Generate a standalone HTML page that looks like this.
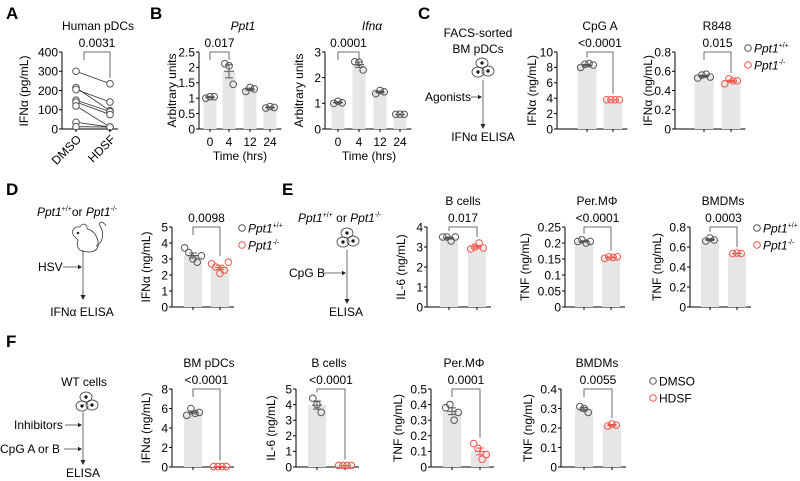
<!DOCTYPE html>
<html><head><meta charset="utf-8"><style>
html,body{margin:0;padding:0;background:#fff}
svg{display:block;font-family:"Liberation Sans",Arial,sans-serif}
</style></head><body>
<svg id="fig" width="800" height="481" viewBox="0 0 800 481" xmlns="http://www.w3.org/2000/svg">
<g font-weight="bold" font-size="17">
<text x="6" y="19">A</text>
<text x="150" y="19">B</text>
<text x="418" y="19">C</text>
<text x="6" y="195">D</text>
<text x="282" y="195">E</text>
<text x="6" y="347">F</text>
</g>
<g font-size="12" text-anchor="middle">
<text x="478" y="37">FACS-sorted</text>
<text x="478" y="53">BM pDCs</text>
<text x="448" y="101">Agonists</text>
<text x="483" y="141">IFNα ELISA</text>
</g>
<g font-size="12">
<text x="37" y="216"><tspan font-style="italic">Ppt1</tspan><tspan font-size="7" dy="-5">+/+</tspan><tspan dy="5">or </tspan><tspan font-style="italic">Ppt1</tspan><tspan font-size="7" dy="-5">-/-</tspan></text>
<text x="38" y="271">HSV</text>
<text x="82" y="316" text-anchor="middle">IFNα ELISA</text>
</g>
<g font-size="12">
<text x="298" y="222"><tspan font-style="italic">Ppt1</tspan><tspan font-size="7" dy="-5">+/+</tspan><tspan dy="5"> or </tspan><tspan font-style="italic">Ppt1</tspan><tspan font-size="7" dy="-5">-/-</tspan></text>
<text x="289" y="277">CpG B</text>
<text x="346" y="316" text-anchor="middle">ELISA</text>
</g>
<g font-size="12">
<text x="84" y="386" text-anchor="middle">WT cells</text>
<text x="14" y="429">Inhibitors</text>
<text x="0" y="453">CpG A or B</text>
<text x="83" y="477" text-anchor="middle">ELISA</text>
</g>
</svg>
<script>
// ---- data ----
const aDmso = [300, 215, 205, 150, 140, 120, 35, 12];
const aHdsf = [235, 95, 140, 90, 75, 10, 10, 10];
const timeLabels = ["0", "4", "12", "24"];
const ppt1Points = [[1.0, 1.05, 1.05], [2.12, 2.05, 1.45], [1.22, 1.35, 1.3], [0.68, 0.73, 0.7]];
const ifnaPoints = [[1.0, 1.08, 1.02], [2.62, 2.6, 2.3], [1.38, 1.5, 1.45], [0.57, 0.58, 0.57]];
const cpgaWt = [8.0, 8.4, 8.5, 8.3];
const cpgaKo = [3.8, 3.8, 3.8, 3.8];
const r848Wt = [0.53, 0.56, 0.57, 0.54];
const r848Ko = [0.47, 0.52, 0.5, 0.5];
const hsvWt = [3.7, 3.4, 3.0, 2.8, 3.2];
const hsvKo = [2.7, 2.5, 2.1, 2.3, 2.8];
const eBWt = [3.5, 3.5, 3.3, 3.5];
const eBKo = [2.9, 3.0, 3.2, 2.95];
const ePerWt = [0.205, 0.21, 0.2, 0.205];
const ePerKo = [0.152, 0.157, 0.155, 0.157];
const eBmdmWt = [0.66, 0.69, 0.67];
const eBmdmKo = [0.535, 0.54, 0.535];
const fPdcDmso = [5.3, 6.0, 5.5, 5.6];
const fPdcHdsf = [0.05, 0.05, 0.05, 0.05];
const fBDmso = [4.4, 4.0, 3.5];
const fBHdsf = [0.1, 0.1, 0.1, 0.1];
const fPerDmso = [0.38, 0.4, 0.3, 0.35];
const fPerHdsf = [0.15, 0.12, 0.05, 0.08];
const fBmdmDmso = [0.31, 0.3, 0.28];
const fBmdmHdsf = [0.21, 0.22, 0.215];
const ticks2p5 = [0, 0.5, 1, 1.5, 2, 2.5];
const ticks3 = [0, 1, 2, 3];
const ticks10 = [0, 2, 4, 6, 8, 10];
const ticks08 = [0, 0.2, 0.4, 0.6, 0.8];
const ticks5 = [0, 1, 2, 3, 4, 5];
const ticks4 = [0, 1, 2, 3, 4];
const ticks025 = [0, 0.05, 0.1, 0.15, 0.2, 0.25];
const ticks8 = [0, 2, 4, 6, 8];
const ticks05 = [0, 0.1, 0.2, 0.3, 0.4, 0.5];
const ticks04 = [0, 0.1, 0.2, 0.3, 0.4];
const ticksA = [0, 100, 200, 300, 400];

const NS = "http://www.w3.org/2000/svg";
const svg = document.getElementById("fig");
const GREY = "#555", RED = "#f0564a", BAR = "#e6e6e6";
const FS = 12;
function mk(tag, attrs, parent) {
  const e = document.createElementNS(NS, tag);
  for (const k in attrs) e.setAttribute(k, attrs[k]);
  (parent || svg).appendChild(e);
  return e;
}
function fmt(v) { return String(+v.toFixed(3)); }
function mean(a) { return a.reduce((s, v) => s + v, 0) / a.length; }
function sem(a) { const m = mean(a); return Math.sqrt(a.reduce((s, v) => s + (v - m) * (v - m), 0) / (a.length - 1)) / Math.sqrt(a.length); }

function yAxis(g, ax, top, bot, ticks) {
  const max = ticks[ticks.length - 1];
  const y = v => bot - (v / max) * (bot - top);
  const l = mk("line", { x1: ax, x2: ax, y1: top, y2: bot, stroke: "#000", "stroke-width": 1 }, g);
  
  
  ticks.forEach((t) => {
    const tk = mk("line", { x1: ax - 3, x2: ax, y1: y(t), y2: y(t), stroke: "#000" }, g);
    
    
    const tx = mk("text", { x: ax - 4, y: y(t) + 4.3, "text-anchor": "end", "font-size": FS }, g);
    
    
    tx.textContent = fmt(t);
  });
  return y;
}
function yTitle(g, x, cy, txt) {
  const t = mk("text", { x: x, y: cy, "text-anchor": "middle", "font-size": FS, transform: "rotate(-90 " + x + " " + cy + ")" }, g);
  
  
  t.textContent = txt;
}
function circles(g, cx, y, pts, color) {
  const n = pts.length;
  pts.forEach((v, i) => {
    const off = (i - (n - 1) / 2) * 4.2;
    const c = mk("circle", { cx: cx + off, cy: y(v), r: 3.3, fill: "none", stroke: color, "stroke-width": 1 }, g);
    
    
  });
}
function errbar(g, cx, y, pts, color) {
  const m = mean(pts), s = sem(pts);
  const e = mk("path", { d: `M${cx},${y(m - s)}V${y(m + s)}M${cx - 4},${y(m + s)}H${cx + 4}M${cx - 4},${y(m - s)}H${cx + 4}M${cx - 5},${y(m)}H${cx + 5}`, stroke: color, fill: "none", "stroke-width": 1 }, g);
  
  
}
function sig(g, x1, x2, top, y1, y2, txt) {
  const p = mk("path", { d: `M${x1},${y1}V${top}H${x2}V${y2}`, stroke: "#444", fill: "none", "stroke-width": 0.8 }, g);
  
  
  const t = mk("text", { x: (x1 + x2) / 2, y: top - 5, "text-anchor": "middle", "font-size": FS }, g);
  
  
  t.textContent = txt;
}
function barChart(name, o, groups, colors, ticks) {
  const g = mk("g", {});
  
  
  const y = yAxis(g, o.ax, o.top, o.bot, ticks);
  const xEnd = o.xs[o.xs.length - 1] + o.bw / 2 + 5;
  const xl = mk("line", { x1: o.ax, x2: xEnd, y1: o.bot, y2: o.bot, stroke: "#000" }, g);
  
  
  groups.forEach((pts, i) => {
    const cx = o.xs[i], m = mean(pts);
    const b = mk("rect", { x: cx - o.bw / 2, y: y(m), width: o.bw, height: o.bot - y(m), fill: BAR }, g);
    
    
    const tk = mk("line", { x1: cx, x2: cx, y1: o.bot, y2: o.bot + 3, stroke: "#000" }, g);
    
    
    errbar(g, cx, y, pts, colors[i]);
    circles(g, cx, y, pts, colors[i]);
  });
  if (o.title) {
    const t = mk("text", { x: o.tx, y: o.top - 22, "text-anchor": "middle", "font-size": FS, "font-style": o.italic ? "italic" : "normal" }, g);
    
    
    t.textContent = o.title;
  }
  const a = groups[0], b = groups[1];
  sig(g, o.xs[0], o.xs[1], o.top, Math.min(o.top + 8, y(Math.max(...a)) - 6), Math.max(o.top + 8, y(Math.max(...b)) - 6), o.p);
  yTitle(g, o.yx, (o.top + o.bot) / 2, o.ylab);
  return { g, y };
}

// ---- Panel A (paired) ----
(function () {
  const g = mk("g", {});
  
  
  const top = 52, bot = 129, ax = 62;
  const y = yAxis(g, ax, top, bot, ticksA);
  const xl = mk("line", { x1: ax, x2: 118, y1: bot, y2: bot, stroke: "#000" }, g);
  
  
  const x0 = 76, x1 = 110;
  aDmso.forEach((v, i) => {
    const l = mk("line", { x1: x0, y1: y(v), x2: x1, y2: y(aHdsf[i]), stroke: "#333", "stroke-width": 0.8 }, g);
    
    
  });
  aDmso.forEach(v => {
    const c = mk("circle", { cx: x0, cy: y(v), r: 3.3, fill: "#fff", stroke: GREY }, g);
    
    
  });
  aHdsf.forEach(v => {
    const c = mk("circle", { cx: x1, cy: y(v), r: 3.3, fill: "#fff", stroke: GREY }, g);
    
    
  });
  [x0, x1].forEach(x => {
    const tk = mk("line", { x1: x, x2: x, y1: bot, y2: bot + 3, stroke: "#000" }, g);
    
    
  });
  ["DMSO", "HDSF"].forEach((s, i) => {
    const x = [x0, x1][i] + 6, yy = 140;
    const t = mk("text", { x: x, y: yy, "text-anchor": "end", "font-size": FS, transform: `rotate(-45 ${x} ${yy})` }, g);
    
    
    t.textContent = s;
  });
  sig(g, 84, x1, top, top + 8, y(Math.max(...aHdsf)) - 6, "0.0031");
  const t = mk("text", { x: 98, y: 30, "text-anchor": "middle", "font-size": FS }, g);
  
  
  t.textContent = "Human pDCs";
  yTitle(g, 28, 91, "IFNα (pg/mL)");
})();

// ---- Panel B ----
function timeChart(name, o, pts, ticks) {
  const r = barChart(name, o, pts, pts.map(() => GREY), ticks);
  o.xs.forEach((x, i) => {
    const t = mk("text", { x: x, y: 146, "text-anchor": "middle", "font-size": FS }, r.g);
    
    
    t.textContent = timeLabels[i];
  });
  const t = mk("text", { x: (o.xs[0] + o.xs[3]) / 2, y: 160, "text-anchor": "middle", "font-size": FS }, r.g);
  
  
  t.textContent = "Time (hrs)";
}
timeChart("panel-b-ppt1-chart", { ax: 199, top: 52, bot: 129, xs: [210, 229, 250, 270], bw: 13, title: "Ppt1", italic: true, tx: 243, p: "0.017", yx: 176, ylab: "Arbitrary units" }, ppt1Points, ticks2p5);
timeChart("panel-b-ifna-chart", { ax: 325, top: 52, bot: 129, xs: [338, 359, 380, 400], bw: 13, title: "Ifnα", italic: true, tx: 372, p: "0.0001", yx: 303, ylab: "Arbitrary units" }, ifnaPoints, ticks3);

// ---- Panel C ----
barChart("panel-c-cpga-chart", { ax: 557, top: 52, bot: 129, xs: [587, 613], bw: 19, title: "CpG A", tx: 600, p: "<0.0001", yx: 536, ylab: "IFNα (ng/mL)" }, [cpgaWt, cpgaKo], [GREY, RED], ticks10);
barChart("panel-c-r848-chart", { ax: 675, top: 52, bot: 129, xs: [704, 731], bw: 19, title: "R848", tx: 717, p: "0.015", yx: 652, ylab: "IFNα (ng/mL)" }, [r848Wt, r848Ko], [GREY, RED], ticks08);

// ---- Panel D ----
barChart("panel-d-chart", { ax: 172, top: 227, bot: 307, xs: [193, 220], bw: 18, p: "0.0098", yx: 150, ylab: "IFNα (ng/mL)" }, [hsvWt, hsvKo], [GREY, RED], ticks5);

// ---- Panel E ----
barChart("panel-e-bcells-chart", { ax: 427, top: 227, bot: 307, xs: [449, 477], bw: 18, title: "B cells", tx: 463, p: "0.017", yx: 405, ylab: "IL-6 (ng/mL)" }, [eBWt, eBKo], [GREY, RED], ticks4);
barChart("panel-e-perm-chart", { ax: 565, top: 227, bot: 307, xs: [584, 611], bw: 18, title: "Per.MΦ", tx: 597, p: "<0.0001", yx: 529, ylab: "TNF (ng/mL)" }, [ePerWt, ePerKo], [GREY, RED], ticks025);
barChart("panel-e-bmdm-chart", { ax: 690, top: 227, bot: 307, xs: [710, 737], bw: 18, title: "BMDMs", tx: 723, p: "0.0003", yx: 661, ylab: "TNF (ng/mL)" }, [eBmdmWt, eBmdmKo], [GREY, RED], ticks08);

// ---- Panel F ----
barChart("panel-f-pdc-chart", { ax: 172, top: 389, bot: 467, xs: [193, 220], bw: 18, title: "BM pDCs", tx: 209, p: "<0.0001", yx: 150, ylab: "IFNα (ng/mL)" }, [fPdcDmso, fPdcHdsf], [GREY, RED], ticks8);
barChart("panel-f-bcells-chart", { ax: 296, top: 389, bot: 467, xs: [317, 345], bw: 18, title: "B cells", tx: 329, p: "<0.0001", yx: 275, ylab: "IL-6 (ng/mL)" }, [fBDmso, fBHdsf], [GREY, RED], ticks5);
barChart("panel-f-perm-chart", { ax: 431, top: 389, bot: 467, xs: [452, 480], bw: 18, title: "Per.MΦ", tx: 464, p: "0.0001", yx: 402, ylab: "TNF (ng/mL)" }, [fPerDmso, fPerHdsf], [GREY, RED], ticks05);
barChart("panel-f-bmdm-chart", { ax: 561, top: 389, bot: 467, xs: [584, 612], bw: 18, title: "BMDMs", tx: 597, p: "0.0055", yx: 532, ylab: "TNF (ng/mL)" }, [fBmdmDmso, fBmdmHdsf], [GREY, RED], ticks04);

// ---- legends ----
function legend(x, y, items) {
  const g = mk("g", {});
  
  
  items.forEach((it, i) => {
    const yy = y + i * 17;
    const c = mk("circle", { cx: x, cy: yy, r: 3.3, fill: "none", stroke: it.c }, g);
    
    
    const t = mk("text", { x: x + 6, y: yy + 4.3, "font-size": FS }, g);
    
    
    if (it.sup) {
      const a = mk("tspan", { "font-style": "italic" }, t); a.textContent = it.t;
      const b = mk("tspan", { "font-size": 7, dy: -5 }, t); b.textContent = it.sup;
    } else t.textContent = it.t;
  });
}
legend(748, 48, [{ t: "Ppt1", sup: "+/+", c: GREY }, { t: "Ppt1", sup: "-/-", c: RED }]);
legend(242, 228, [{ t: "Ppt1", sup: "+/+", c: GREY }, { t: "Ppt1", sup: "-/-", c: RED }]);
legend(757, 228, [{ t: "Ppt1", sup: "+/+", c: GREY }, { t: "Ppt1", sup: "-/-", c: RED }]);
legend(653, 381, [{ t: "DMSO", c: GREY }, { t: "HDSF", c: RED }]);

// ---- schematic icons ----
function cells(cx, cy, name) {
  const g = mk("g", { fill: "none", stroke: "#333", "stroke-width": 0.8 });
  
  
  [[0, -5], [-4, 4], [6, 3]].forEach(([dx, dy]) => {
    mk("ellipse", { cx: cx + dx, cy: cy + dy, rx: 6, ry: 5 }, g);
    mk("circle", { cx: cx + dx, cy: cy + dy, r: 1.3, fill: "#000" }, g);
  });
}
function flow(x, y1, y2, arrows, name) {
  const g = mk("g", { stroke: "#444", "stroke-width": 0.8, fill: "#222" });
  
  
  mk("line", { x1: x, x2: x, y1: y1, y2: y2 - 4 }, g);
  mk("path", { d: `M${x - 2.5},${y2 - 5}L${x + 2.5},${y2 - 5}L${x},${y2}Z`, stroke: "none" }, g);
  arrows.forEach(([xs, yy]) => {
    mk("line", { x1: xs, x2: x - 4, y1: yy, y2: yy }, g);
    mk("path", { d: `M${x - 5},${yy - 2.2}L${x - 5},${yy + 2.2}L${x - 1},${yy}Z`, stroke: "none" }, g);
  });
}
cells(482, 68, "schematic-c-cells");
flow(483, 80, 129, [[471, 97]], "schematic-c-flow");
cells(347, 238, "schematic-e-cells");
flow(347, 250, 304, [[323, 273]], "schematic-e-flow");
cells(86, 402, "schematic-f-cells");
flow(83, 412, 465, [[65, 425], [64, 449]], "schematic-f-flow");
flow(83, 250, 300, [[63, 267]], "schematic-d-flow");
(function () {
  const g = mk("g", { fill: "none", stroke: "#333", "stroke-width": 0.8 });
  
  
  mk("path", { d: "M74,236 C70,232 74,226 80,227 C82,222 88,224 87,229 C94,230 99,238 98,246 C97,252 90,253 82,251 C78,250 76,244 78,240 Z" }, g);
  mk("path", { d: "M96,246 C104,242 104,232 100,226 C97,222 103,220 106,226" }, g);
  mk("circle", { cx: 78, cy: 233, r: 0.9, fill: "#000" }, g);
})();
</script>
</body></html>
